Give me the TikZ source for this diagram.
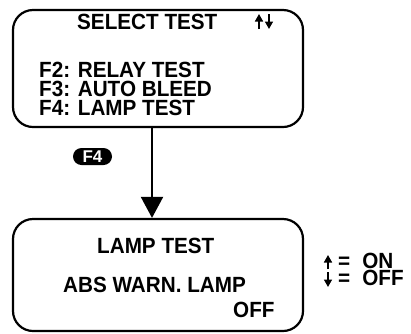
\documentclass[tikz,border=0pt]{standalone}
\usepackage{fontspec}
\setmainfont{Liberation Sans}
\newfontfamily\screenfont[FakeStretch=0.94]{Liberation Sans Bold}
\usetikzlibrary{arrows.meta}
\begin{document}
\begin{tikzpicture}[x=1pt,y=-1pt,
  screen/.style={draw, line width=2.2pt, rounded corners=20pt, inner sep=0pt},
  txt/.style={anchor=base west, inner sep=0pt, text height=15pt, text depth=0pt, font=\screenfont\fontsize{22}{24}\selectfont},
  flow/.style={line width=2pt, -{Triangle[length=21pt,width=22pt]}},
  minarrow/.style={line width=1.6pt, -{Triangle[length=7.5pt,width=8pt]}},
  badge/.style={fill=black, text=white, rounded corners=8.5pt, minimum width=39pt, minimum height=17pt, inner sep=0pt, font=\fontsize{17}{18}\selectfont\bfseries}]
\useasboundingbox (0,0) rectangle (411,333);
% screens
\node[screen, minimum width=290pt, minimum height=117pt] (top) at (158,68.5) {};
\node[screen, minimum width=290pt, minimum height=112pt] (bot) at (158,275) {};
% top screen text
\node[txt] (t1) at (77,29) {SELECT TEST};
\coordinate (ua1) at (259,29); \coordinate (ua2) at (259,14);
\coordinate (da1) at (269,14); \coordinate (da2) at (269,29);
\draw[minarrow] (ua1) -- (ua2);
\draw[minarrow] (da1) -- (da2);
\node[txt] (t2) at (39,77) {F2: RELAY TEST};
\node[txt] (t3) at (39,96) {F3: AUTO BLEED};
\node[txt] (t4) at (39,115) {F4: LAMP TEST};
% connector
\draw[flow] ([xshift=-6pt]top.south) -- ([xshift=-6pt]bot.north);
\node[badge] (key) at (92.5,156.5) {F4};
% bottom screen text
\node[txt] (b1) at (97,253) {LAMP TEST};
\node[txt] (b2) at (63,292) {ABS WARN. LAMP};
\node[txt] (b3) at (233,317) {OFF};
% legend
\coordinate (lu1) at (328,269); \coordinate (lu2) at (328,255);
\coordinate (ld1) at (328,272); \coordinate (ld2) at (328,287);
\draw[minarrow] (lu1) -- (lu2);
\draw[minarrow] (ld1) -- (ld2);
\node[txt] (l1) at (338,268) {=\hspace{12pt}ON};
\node[txt] (l2) at (338,285) {=\hspace{12pt}OFF};
\end{tikzpicture}
\end{document}
